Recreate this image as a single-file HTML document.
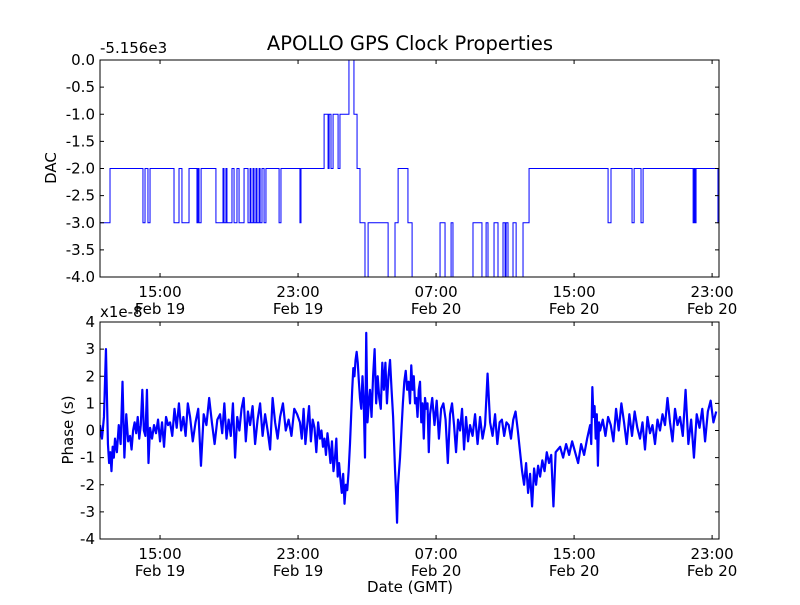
<!DOCTYPE html>
<html><head><meta charset="utf-8"><style>
body{margin:0;background:#fff;}
svg text{font-family:"DejaVu Sans","Liberation Sans",sans-serif;fill:#000;}
</style></head><body>
<svg id="c" width="800" height="600" xmlns="http://www.w3.org/2000/svg">
<rect width="800" height="600" fill="#fff"/>
<text x="410" y="50" font-size="19.5" text-anchor="middle">APOLLO GPS Clock Properties</text>
<text x="100" y="53" font-size="15">-5.156e3</text>
<text x="100" y="317" font-size="15">x1e-8</text>
<text transform="translate(56,168) rotate(-90)" font-size="15" text-anchor="middle">DAC</text>
<text transform="translate(73,430) rotate(-90)" font-size="15" text-anchor="middle">Phase (s)</text>
<text x="410" y="592" font-size="15" text-anchor="middle">Date (GMT)</text>
<g id="g1"></g>
<g id="g2"></g>
</svg>
<script>
// x time ticks (hours since Feb 19 00:00)
const xTicks=[15,23,31,39,47];
const xTickTime=["15:00","23:00","07:00","15:00","23:00"];
const xTickDate=["Feb 19","Feb 19","Feb 20","Feb 20","Feb 20"];
const xDomain=[11.52,47.40];
// DAC step series: change times (hours) and values
const dacTimes=[11.52,12.10,14.01,14.13,14.30,14.42,15.81,16.10,16.27,16.68,17.14,17.20,17.26,17.38,18.24,18.65,18.71,18.82,18.88,19.17,19.29,19.46,19.58,19.87,20.10,20.22,20.27,20.39,20.45,20.56,20.62,20.74,20.80,20.91,21.03,21.14,21.90,22.01,23.11,23.17,24.51,24.74,24.80,24.91,25.03,25.32,25.43,25.95,26.24,26.42,26.59,26.88,27.06,28.22,28.62,28.80,29.37,29.61,31.23,31.52,31.87,31.98,33.14,33.66,33.90,34.01,34.36,34.59,34.88,35.00,35.06,35.17,35.46,35.64,36.04,36.39,40.97,41.14,42.36,42.48,42.88,43.00,45.90,45.96,46.01,46.07,47.34,47.40];
const dacValues=[-3,-2,-3,-2,-3,-2,-3,-2,-3,-2,-3,-2,-3,-2,-3,-2,-3,-2,-3,-2,-3,-2,-3,-2,-3,-2,-3,-2,-3,-2,-3,-2,-3,-2,-3,-2,-3,-2,-3,-2,-1,-2,-1,-2,-1,-2,-1,0,-1,-2,-3,-4,-3,-4,-3,-2,-3,-4,-3,-4,-3,-4,-3,-4,-3,-4,-3,-4,-3,-4,-3,-4,-3,-4,-3,-2,-3,-2,-3,-2,-3,-2,-3,-2,-3,-2,-3,-3];
const dacTickLabels=["0.0","-0.5","-1.0","-1.5","-2.0","-2.5","-3.0","-3.5","-4.0"];
const dacTickValues=[0,-0.5,-1,-1.5,-2,-2.5,-3,-3.5,-4];
// Phase series (units 1e-8 s): segment start times and sample values per segment
const phaseSegStart=[11.52,11.98,12.39,13.26,14.42,15.58,16.74,18.48,20.22,21.96,23.11,24.27,25.14,26.01,26.59,27.17,28.51,28.91,29.49,30.65,31.81,32.97,34.42,35.87,37.03,38.19,39.93,40.51,42.82,45.14,47.40];
const phaseSeg0=[0.2,-0.3,0.5,3.0];
const phaseSeg1=[-0.5,-1.2,-0.8,-1.5,-0.6,-1.0];
const phaseSeg2=[-0.3,-0.8,0.2,-0.5,1.8,-1.0,0.6,-0.4];
const phaseSeg3=[-0.2,-0.7,0,0.3,-0.1,0.5,-0.3,0.2,1.5,0,-0.2,1.5,-1.2];
const phaseSeg4=[0.1,-0.3,0.2,-0.1,0.4,-0.4,0.3,-0.6,0.5,0.2];
const phaseSeg5=[0.3,-0.2,0.8,0.1,1.0,0,0.5,-0.2,1.0];
const phaseSeg6=[0.5,-0.4,0.3,0.8,-1.3,0.6,0.2,1.2,0.3,-0.5,0.4];
const phaseSeg7=[0.6,-0.1,1.0,-0.3,0.4,-0.2,1.0,-1.0,0.5,0,0.8,1.2,-0.4,0.7];
const phaseSeg8=[0.2,0.9,-0.5,0.4,1.0,-0.2,0.6,0,-0.7,1.2,0.3,-0.3];
const phaseSeg9=[0.5,1.0,0,0.4,-0.2,0.8,0.6];
const phaseSeg10=[0.3,-0.3,0.8,-0.5,0.2,0.9,-0.4,0.4,0.1,-0.8,0.3];
const phaseSeg11=[-0.3,0,-0.6,-0.3,-0.9,-0.1,-0.6,-1.2,-0.4,-1.5];
const phaseSeg12=[-1.0,-0.3,-1.7,-1.2,-1.8,-2.3,-1.6,-2.7,-2.0,-2.2,-1.5];
const phaseSeg13=[-0.5,0.5,1.5,2.3,2.0,2.6,2.9,2.5,1.8];
const phaseSeg14=[1.2,0.8,2.0,1.0,-1.0,3.6,0.3,1.0];
const phaseSeg15=[1.5,0.5,2.0,3.0,1.0,2.0,1.2,0.8,2.5,1.5,2.5,1.0,2.0,2.6,1.5];
const phaseSeg16=[0.5,-0.5,-1.5,-2.3,-3.4,-2.0,-1.5];
const phaseSeg17=[-1.0,0,1.0,1.8,2.2,1.5,1.8];
const phaseSeg18=[1.0,2.4,1.5,2.0,1.0,1.2,0.5,1.5,1.8,0.3,1.0,-0.3,1.2,0.8,1.0,-0.8];
const phaseSeg19=[0.6,1.2,0.2,1.1,-0.3,0.8,1.0,0.4,-1.2];
const phaseSeg20=[0.6,1.0,0.2,-0.8,0.4,0,0.8,-0.7,0.5,-0.4];
const phaseSeg21=[0.2,-0.2,0.6,-0.5,0.5,-0.3,0.2,2.1,0.3,-0.2];
const phaseSeg22=[0.6,-0.5,0.3,0.4,-0.2,0.3,0.2,-0.3,0.4,0.7,0];
const phaseSeg23=[-0.8,-1.5,-2.0,-1.2,-2.3,-1.6,-2.8,-1.4,-2.0,-1.3];
const phaseSeg24=[-1.7,-1.1,-1.5,-0.8,-1.2,-0.9,-2.8,-0.8,-0.7];
const phaseSeg25=[-0.6,-1.0,-0.5,-0.9,-0.4,-0.8,-1.2,-0.5,-0.9,-0.3];
const phaseSeg26=[0.2,-0.5,1.6,0.5,0.9,-0.3,0.6,-1.3,0.3];
const phaseSeg27=[0,0.4,-0.2,0.5,0.2,-0.4,0.8,0,1.0,0.3,-0.5,0.6,-0.2,0.7,0.1];
const phaseSeg28=[-0.3,0.3,-0.7,0.5,-0.1,0.2,-0.5,0.4,0,0.6,0.2,1.2,0.3,-0.4,0.8,0.2];
const phaseSeg29=[0.5,-0.2,1.5,-0.5,0.4,-1.0,0.6,0.1,0.8,-0.4,0.7,1.1,0.3,0.7];
const phaseSegs=[phaseSeg0,phaseSeg1,phaseSeg2,phaseSeg3,phaseSeg4,phaseSeg5,phaseSeg6,phaseSeg7,phaseSeg8,phaseSeg9,phaseSeg10,phaseSeg11,phaseSeg12,phaseSeg13,phaseSeg14,phaseSeg15,phaseSeg16,phaseSeg17,phaseSeg18,phaseSeg19,phaseSeg20,phaseSeg21,phaseSeg22,phaseSeg23,phaseSeg24,phaseSeg25,phaseSeg26,phaseSeg27,phaseSeg28,phaseSeg29];
const phaseTickValues=[4,3,2,1,0,-1,-2,-3,-4];
const phaseTickLabels=["4","3","2","1","0","-1","-2","-3","-4"];

const NS="http://www.w3.org/2000/svg";
function mk(t,a,p){const e=document.createElementNS(NS,t);for(const k in a)e.setAttribute(k,a[k]);p.appendChild(e);return e;}
const L=100,R=719;
function xs(h){return L+(h-xDomain[0])/(xDomain[1]-xDomain[0])*(R-L);}

function panel(g,T,B,y0,y1,yv,yl,name){
  const ys=v=>T+(y1-v)/(y1-y0)*(B-T);
  const cp=mk('clipPath',{id:'cp'+name},g);
  mk('rect',{x:L,y:T,width:R-L,height:B-T},cp);
  const dg=mk('g',{'clip-path':'url(#cp'+name+')'},g);
  const ag=mk('g',{},g);
  const fr=mk('rect',{x:L,y:T,width:R-L,height:B-T,fill:'none',stroke:'#000','stroke-width':1},ag);
  
  
  yv.forEach((v,i)=>{
    const y=ys(v);
    mk('line',{x1:L,x2:L+4,y1:y,y2:y,stroke:'#000'},ag);
    mk('line',{x1:R-4,x2:R,y1:y,y2:y,stroke:'#000'},ag);
    const t=mk('text',{x:L-5,y:y+5,'font-size':15,'text-anchor':'end'},ag);
    t.textContent=yl[i];
    
    
  });
  xTicks.forEach((h,i)=>{
    const x=xs(h);
    mk('line',{x1:x,x2:x,y1:B,y2:B-4,stroke:'#000'},ag);
    mk('line',{x1:x,x2:x,y1:T,y2:T+4,stroke:'#000'},ag);
    const t=mk('text',{x:x,y:B+20,'font-size':15,'text-anchor':'middle'},ag);
    t.textContent=xTickTime[i];
    
    
    const d=mk('text',{x:x,y:B+37,'font-size':15,'text-anchor':'middle'},ag);
    d.textContent=xTickDate[i];
    
    
  });
  return {dg,ys};
}

const p1=panel(document.getElementById('g1'),60,277,-4,0,dacTickValues,dacTickLabels,'dac');
let d='';
for(let i=0;i<dacTimes.length-1;i++){
  const x0=xs(dacTimes[i]),x1=xs(dacTimes[i+1]),y=p1.ys(dacValues[i]);
  d+=(i?'L':'M')+x0.toFixed(2)+','+y.toFixed(2)+'L'+x1.toFixed(2)+','+y.toFixed(2);
}
const l1=mk('path',{d:d,fill:'none',stroke:'#0000ff','stroke-width':1},p1.dg);



const p2=panel(document.getElementById('g2'),322,539,-4,4,phaseTickValues,phaseTickLabels,'phase');
let pts=[];
phaseSegs.forEach((vals,s)=>{
  const a=phaseSegStart[s],b=phaseSegStart[s+1];
  vals.forEach((v,j)=>{pts.push(xs(a+(b-a)*j/vals.length).toFixed(2)+','+p2.ys(v).toFixed(2));});
});
const l2=mk('polyline',{points:pts.join(' '),fill:'none',stroke:'#0000ff','stroke-width':2.2,'stroke-linejoin':'round'},p2.dg);


</script>
</body></html>
